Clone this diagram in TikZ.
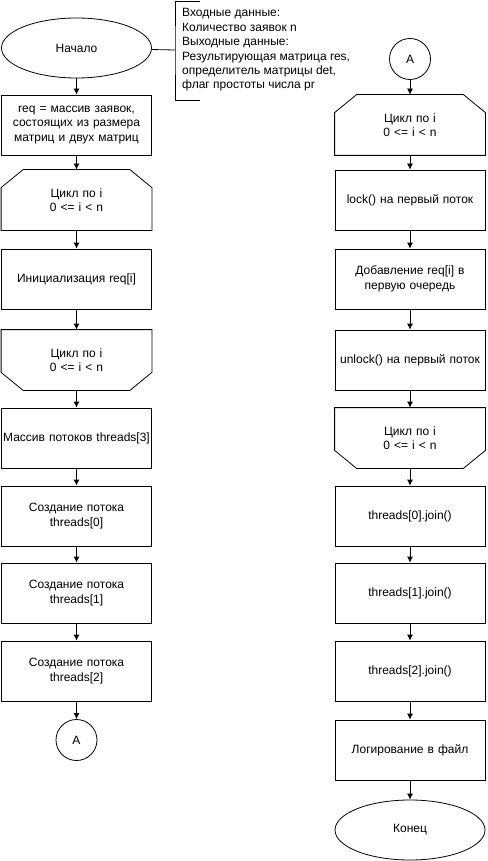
\documentclass[tikz,border=0pt]{standalone}
\usepackage{fontspec}
\setmainfont{Liberation Sans}
\usetikzlibrary{arrows.meta,shapes.geometric}

\tikzset{
	blk/.style = {draw, line width=0.8pt, minimum width=150pt, minimum height=60pt, text width=150pt, align=center, inner sep=0pt},
	loopbox/.style = {blk, draw=none},
	term/.style = {blk, ellipse, text width=60pt},
	conn/.style = {draw, circle, line width=0.8pt, minimum size=41pt, inner sep=0pt},
	flow/.style = {line width=0.8pt, -{Latex[length=6pt,width=6pt]}}
}

\begin{document}
\begin{tikzpicture}[x=1pt, y=-1pt, font=\fontsize{12}{14.4}\selectfont]
	\useasboundingbox (0,0) rectangle (487,861);
	\node[term] (start) at (76.5,48) {Начало};
	\node[blk] (req) at (76.5,125) {req = массив заявок,\\состоящих из размера\\матриц и двух матриц};
	\node[loopbox] (l1) at (76.5,200) {Цикл по i\\0 <= i < n};
	\node[blk] (init) at (76.5,279) {Инициализация req[i]};
	\node[loopbox] (l2) at (76.5,360) {Цикл по i\\0 <= i < n};
	\node[blk] (mas) at (76.5,438) {Массив потоков threads[3]};
	\node[blk] (t0) at (76.5,516) {Создание потока\\threads[0]};
	\node[blk] (t1) at (76.5,593) {Создание потока\\threads[1]};
	\node[blk] (t2) at (76.5,671) {Создание потока\\threads[2]};
	\node[conn] (ca) at (76.5,740) {A};

	\node[conn] (cb) at (410,59) {A};
	\node[loopbox] (r1) at (410,125) {Цикл по i\\0 <= i < n};
	\node[blk] (lock) at (410,200) {lock() на первый поток};
	\node[blk] (add) at (410,279) {Добавление req[i] в\\первую очередь};
	\node[blk] (unlock) at (410,360) {unlock() на первый поток};
	\node[loopbox] (r2) at (410,438) {Цикл по i\\0 <= i < n};
	\node[blk] (j0) at (410,516) {threads[0].join()};
	\node[blk] (j1) at (410,593) {threads[1].join()};
	\node[blk] (j2) at (410,671) {threads[2].join()};
	\node[blk] (log) at (410,750) {Логирование в файл};
	\node[term] (end) at (410,830) {Конец};

	\foreach \n in {l1,r1}
		\draw[line width=0.8pt] ([xshift=22pt]\n.north west) -- ([xshift=-22pt]\n.north east) -- ([yshift=-18pt]\n.north east) -- (\n.south east) -- (\n.south west) -- ([yshift=-18pt]\n.north west) -- cycle;
	\foreach \n in {l2,r2}
		\draw[line width=0.8pt] (\n.north west) -- (\n.north east) -- ([yshift=18pt]\n.south east) -- ([xshift=-22pt]\n.south east) -- ([xshift=22pt]\n.south west) -- ([yshift=18pt]\n.south west) -- cycle;

	\foreach \a/\b in {start/req,req/l1,l1/init,init/l2,l2/mas,mas/t0,t0/t1,t1/t2,t2/ca,cb/r1,r1/lock,lock/add,add/unlock,unlock/r2,r2/j0,j0/j1,j1/j2,j2/log,log/end}
		\draw[flow] (\a) -- (\b);

	\coordinate (brk) at (175,50);
	\node[anchor=west, align=left, inner sep=0pt] (note) at (182,50) {Входные данные:\\Количество заявок n\\Выходные данные:\\Результирующая матрица res,\\определитель матрицы det,\\флаг простоты числа pr};
	\draw[line width=0.8pt] (start) -- (brk);
	\draw[line width=0.8pt] (200,1) -| (brk) |- (200,100);
\end{tikzpicture}
\end{document}
